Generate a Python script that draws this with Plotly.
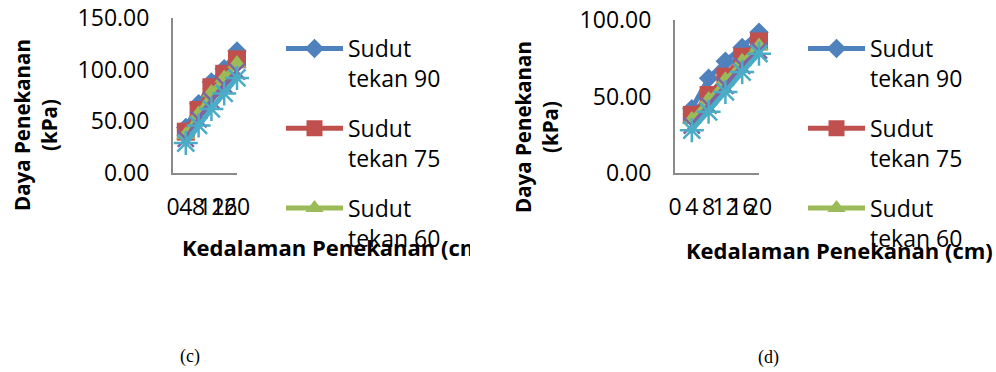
import plotly.graph_objects as go

# Kedalaman penekanan (cm) dan sudut tekan (derajat)
depth = [4, 8, 12, 16, 20]
depth_ticks = [0, 4, 8, 12, 16, 20]
angles = [90, 75, 60, 45, 30]

# Daya penekanan (kPa) - grafik (c)
c_90 = [44, 67, 88, 101, 118]
c_75 = [40, 61, 83, 96, 110]
c_60 = [37, 57, 78, 92, 106]
c_45 = [33, 52, 70, 85, 98]
c_30 = [29, 46, 62, 77, 92]

# Daya penekanan (kPa) - grafik (d)
d_90 = [42, 62, 73, 82, 92]
d_75 = [38, 51, 63, 76, 86]
d_60 = [35, 48, 61, 73, 83]
d_45 = [31, 44, 57, 70, 80]
d_30 = [28, 40, 53, 66, 78]

c_yticks = [0, 50, 100, 150]
d_yticks = [0, 50, 100]

x_title = "Kedalaman Penekanan (cm)"
y_title = "Daya Penekanan<br>(kPa)"

colors = ["#4F81BD", "#C0504D", "#9BBB59", "#8064A2", "#4BACC6"]
symbols = ["diamond", "square", "triangle-up", "x-thin-open", "asterisk-open"]
msizes = [15, 18, 17, 16, 20]

W, H = 996, 372
FONT = "Open Sans"


def px_x(v):
    return v / W


def px_y(v):
    return 1 - v / H


fig = go.Figure()

panels = [
    ("x", "y", "legend", [c_90, c_75, c_60, c_45, c_30]),
    ("x2", "y2", "legend2", [d_90, d_75, d_60, d_45, d_30]),
]

for xa, ya, leg, series in panels:
    for i, (ang, vals) in enumerate(zip(angles, series)):
        open_sym = symbols[i].endswith("open")
        fig.add_trace(go.Scatter(
            x=depth, y=vals, xaxis=xa, yaxis=ya,
            mode="lines+markers",
            name=f"Sudut<br>tekan {ang}",
            legend=leg, legendgroup=f"{leg}-{ang}",
            showlegend=i < 3,
            cliponaxis=False,
            line=dict(color=colors[i], width=5),
            marker=dict(symbol=symbols[i], size=msizes[i], color=colors[i],
                        line=dict(color=colors[i], width=2.5 if open_sym else 0)),
        ))

bold_title = dict(family=FONT, size=22, color="#000", weight="bold")

# Left chart's x title sits in its own clipped strip, so it is cut at the
# chart's right border the same way the exported chart object is.
fig.add_trace(go.Scatter(
    x=[182 / 470], y=[0.5], xaxis="x3", yaxis="y3",
    mode="text", text=[x_title], textposition="middle right",
    textfont=bold_title, cliponaxis=True, showlegend=False, hoverinfo="skip",
))

axis_style = dict(showline=True, linecolor="#8a8a8a", linewidth=2,
                  showgrid=False, zeroline=False, ticks="", automargin=False,
                  tickangle=0,
                  tickfont=dict(family=FONT, size=23, color="#000"))
hidden = dict(visible=False, showgrid=False, zeroline=False, fixedrange=True)

fig.update_layout(
    width=W, height=H,
    margin=dict(l=0, r=0, t=0, b=0, autoexpand=False),
    paper_bgcolor="white", plot_bgcolor="rgba(0,0,0,0)",
    font=dict(family=FONT, color="#000"),
    xaxis=dict(domain=[px_x(173), px_x(237)], range=[0, 20], anchor="y",
               tickvals=depth_ticks, ticklabelstandoff=12, **axis_style),
    yaxis=dict(domain=[px_y(173), px_y(18)], range=[0, 150], anchor="x",
               tickvals=c_yticks, tickformat=".2f", ticklabelstandoff=17, **axis_style),
    xaxis2=dict(domain=[px_x(675), px_x(759)], range=[0, 20], anchor="y2",
                tickvals=depth_ticks, ticklabelstandoff=12, **axis_style),
    yaxis2=dict(domain=[px_y(173), px_y(20)], range=[0, 100], anchor="x2",
                tickvals=d_yticks, tickformat=".2f", ticklabelstandoff=17, **axis_style),
    xaxis3=dict(domain=[0, px_x(470)], range=[0, 1], anchor="y3", **hidden),
    yaxis3=dict(domain=[px_y(268), px_y(232)], range=[0, 1], anchor="x3", **hidden),
    legend=dict(x=px_x(281), y=px_y(27), xanchor="left", yanchor="top",
                font=dict(family=FONT, size=23), valign="top",
                itemwidth=57, tracegroupgap=17, bgcolor="rgba(0,0,0,0)"),
    legend2=dict(x=px_x(803), y=px_y(27), xanchor="left", yanchor="top",
                 font=dict(family=FONT, size=23), valign="top",
                 itemwidth=57, tracegroupgap=17, bgcolor="rgba(0,0,0,0)"),
)

ytitle_font = dict(bold_title, size=20.5)
serif = dict(family="Liberation Serif", size=18, color="#000")
annotations = [
    dict(text=y_title, x=px_x(36), y=px_y(125), textangle=-90, font=ytitle_font),
    dict(text=y_title, x=px_x(537), y=px_y(127), textangle=-90, font=ytitle_font),
    dict(text=x_title, x=px_x(684), y=px_y(250), xanchor="left", font=bold_title),
    dict(text="(c)", x=px_x(190), y=px_y(356), font=serif),
    dict(text="(d)", x=px_x(768), y=px_y(357), font=serif),
]
for a in annotations:
    a.setdefault("xanchor", "center")
    a.update(xref="paper", yref="paper", yanchor="middle", showarrow=False)
fig.update_layout(annotations=annotations)

fig.write_html("out.html")
